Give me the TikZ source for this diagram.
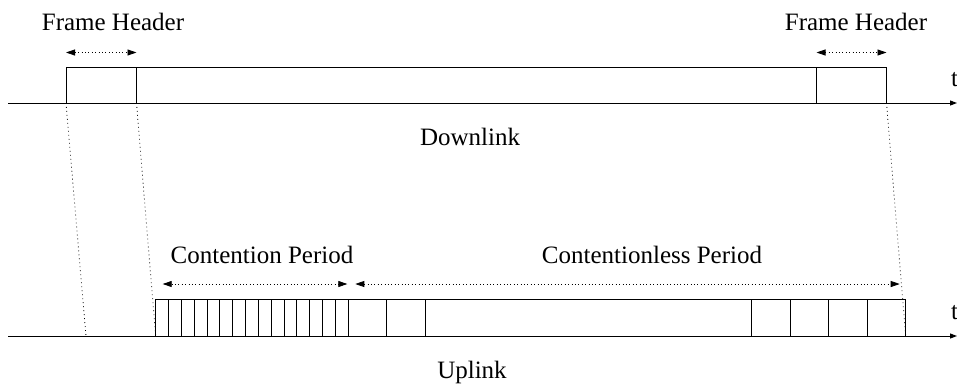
\documentclass[tikz,border=0pt]{standalone}
\usepackage{fontspec}
\setmainfont{Liberation Serif}
\usetikzlibrary{arrows.meta}
\begin{document}
\begin{tikzpicture}[x=1pt,y=-1pt,
  box/.style={draw, line width=1pt, inner sep=0pt, outer sep=0pt, anchor=south west},
  axis/.style={line width=1pt, -{Triangle[length=7pt,width=5pt]}},
  guide/.style={line width=0.8pt, dash pattern=on 0.8pt off 3.2pt},
  span/.style={line width=0.8pt, dash pattern=on 0.8pt off 2.6pt, {Triangle[length=9pt,width=6pt]}-{Triangle[length=9pt,width=6pt]}},
  lbl/.style={font=\fontsize{25}{28}\selectfont, inner sep=0pt}]
\useasboundingbox (0,0) rectangle (957,389);
% top axis
\coordinate (ta0) at (8,103);
\coordinate (ta1) at (957,103);
\draw[axis] (ta0) -- (ta1);
\node[box, minimum width=70.5pt, minimum height=36pt] (h1) at (66,103) {};
\node[box, minimum width=680pt, minimum height=36pt] (dl) at (136.5,103) {};
\node[box, minimum width=70pt, minimum height=36pt] (h2) at (816.5,103) {};
% bottom axis
\coordinate (ba0) at (8,336);
\coordinate (ba1) at (957,336);
\draw[axis] (ba0) -- (ba1);
\foreach \i in {1,...,15}{
  \node[box, minimum width=12.85pt, minimum height=37pt] (s\i) at ({155.7+(\i-1)*12.84},336) {};
}
\node[box, minimum width=38.4pt, minimum height=37pt] (c1) at (348.3,336) {};
\node[box, minimum width=38.3pt, minimum height=37pt] (c2) at (386.7,336) {};
\node[box, minimum width=326.7pt, minimum height=37pt] (ul) at (425,336) {};
\node[box, minimum width=38.3pt, minimum height=37pt] (e1) at (751.7,336) {};
\node[box, minimum width=38.3pt, minimum height=37pt] (e2) at (790,336) {};
\node[box, minimum width=38.9pt, minimum height=37pt] (e3) at (828.3,336) {};
\node[box, minimum width=38.5pt, minimum height=37pt] (e4) at (867.2,336) {};
% guides
\coordinate (g1) at (86,336);
\draw[guide] (h1.south west) -- (g1);
\draw[guide] (h1.south east) -- (s1.south west);
\draw[guide] (h2.south east) -- (e4.south east);
% spans
\draw[span] ([yshift=14.5pt]h1.north west) -- ([yshift=14.5pt]h1.north east);
\draw[span] ([yshift=14.5pt]h2.north west) -- ([yshift=14.5pt]h2.north east);
\draw[span] ([xshift=7pt,yshift=15pt]s1.north west) -- ([xshift=-1pt,yshift=15pt]s15.north east);
\draw[span] ([xshift=7pt,yshift=15pt]c1.north west) -- ([xshift=-6pt,yshift=15pt]e4.north east);
% labels
\node[lbl] (fh1) at (113,22) {Frame Header};
\node[lbl] (fh2) at (856,22) {Frame Header};
\node[lbl] (dn) at (470,137) {Downlink};
\node[lbl] (cp) at (262,255) {Contention Period};
\node[lbl] (clp) at (652,255) {Contentionless Period};
\node[lbl] (up) at (472,372) {Uplink};
\node[lbl] (t1) at (954.5,80) {t};
\node[lbl] (t2) at (954.5,313) {t};
\end{tikzpicture}
\end{document}
